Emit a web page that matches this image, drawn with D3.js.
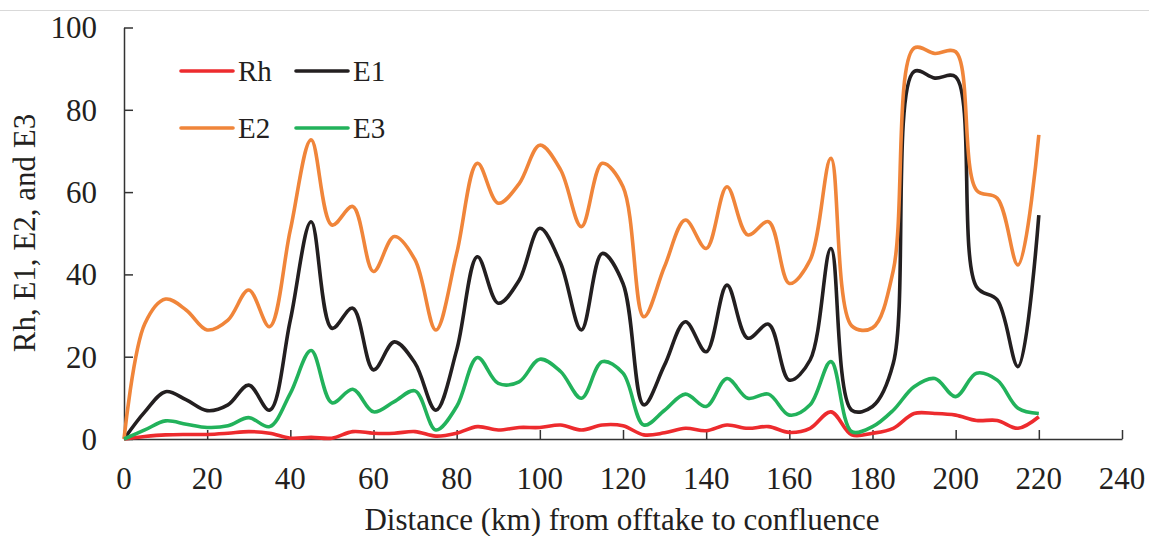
<!DOCTYPE html>
<html>
<head>
<meta charset="utf-8">
<script src="https://cdn.jsdelivr.net/npm/d3@7"></script>
<style>
  html, body { margin: 0; padding: 0; background: #fff; }
  svg { display: block; font-family: "Liberation Serif", "Times New Roman", serif; }
</style>
</head>
<body>
<svg id="chart" width="1149" height="536"></svg>
<script>
// distance along the canal (km)
const km = [0, 5, 10, 15, 20, 25, 30, 35, 40, 45,
  50, 55, 60, 65, 70, 75, 80, 85, 90, 95,
  100, 105, 110, 115, 120, 125, 130, 135, 140, 145,
  150, 155, 160, 165, 170, 175, 180, 185, 190, 195,
  200, 205, 210, 215, 220];

const rh = [0, 0.6, 1.0, 1.1, 1.1, 1.4, 1.8, 1.4, 0.2, 0.4,
  0.2, 1.8, 1.4, 1.4, 1.8, 0.7, 1.4, 3.0, 2.2, 2.8,
  2.8, 3.4, 2.2, 3.4, 3.2, 1.0, 1.5, 2.6, 2.0, 3.4,
  2.6, 3.0, 1.6, 2.6, 6.6, 1.0, 1.4, 2.6, 6.2, 6.2,
  5.8, 4.5, 4.5, 2.6, 5.4];

const e1 = [0, 6.6, 11.5, 9.5, 6.9, 8.3, 13.1, 7.0, 28.9, 52.8,
  26.9, 31.8, 16.8, 23.6, 18.4, 7.0, 21.6, 44.3, 33.0, 38.5,
  51.2, 42.7, 26.5, 45.1, 37.8, 8.3, 18.0, 28.5, 21.2, 37.4,
  24.5, 27.9, 14.3, 19.2, 46.3, 7.0, 7.9, 18.4, 89.3, 87.7,
  88.0, 37.0, 33.8, 17.6, 54.4];

const e2 = [0, 28, 34, 31.3, 26.5, 28.9, 36.2, 27.3, 50.8, 72.7,
  52, 56.5, 40.7, 49.2, 43.5, 26.5, 45.1, 67, 57.3, 62,
  71.4, 65.4, 51.6, 67, 61.3, 29.7, 41.9, 53.2, 46.3, 61.3,
  49.6, 52.8, 37.8, 43.5, 68.2, 27.5, 27, 41, 95, 93.7,
  94.1, 60.5, 58.5, 42.3, 73.9];

const e3 = [0, 2.2, 4.4, 3.6, 2.8, 3.2, 5.2, 3.0, 11.1, 21.5,
  8.8, 12.1, 6.6, 9.1, 11.7, 2.2, 7.9, 19.8, 13.5, 13.9,
  19.4, 16.4, 9.9, 18.8, 16.0, 3.4, 7.0, 10.9, 7.9, 14.7,
  9.9, 10.9, 5.8, 8.3, 18.8, 1.8, 3.0, 7.0, 12.7, 14.7,
  10.3, 16.0, 14.3, 7.5, 6.2];

const xTicks = [0, 20, 40, 60, 80, 100, 120, 140, 160, 180, 200, 220, 240];
const yTicks = [0, 20, 40, 60, 80, 100];

const series = [
  { name: "Rh", values: rh, color: "#ed2b2e" },
  { name: "E1", values: e1, color: "#231f20" },
  { name: "E2", values: e2, color: "#f0853a" },
  { name: "E3", values: e3, color: "#22b25b" }
];

const svg = d3.select("#chart");

// thin frame line along the top
svg.append("line")
  .attr("x1", 0).attr("x2", 1149)
  .attr("y1", 10.5).attr("y2", 10.5)
  .attr("stroke", "#d9d9d9").attr("stroke-width", 1);

const x = d3.scaleLinear().domain([0, 240]).range([124, 1122]);
const y = d3.scaleLinear().domain([0, 100]).range([439, 27.5]);

// axes (ticks point inward, labels placed by hand)
const xAxis = svg.append("g")
  .attr("transform", "translate(0," + y(0) + ")")
  .call(d3.axisTop(x).tickValues(xTicks).tickSize(9).tickSizeOuter(0).tickFormat(""));
xAxis.select(".domain").attr("stroke", "#333").attr("stroke-width", 1.5);
xAxis.selectAll(".tick line").attr("stroke", "#333").attr("stroke-width", 1.5);

const yAxis = svg.append("g")
  .attr("transform", "translate(" + x(0) + ",0)")
  .call(d3.axisRight(y).tickValues(yTicks).tickSize(9).tickSizeOuter(0).tickFormat(""));
yAxis.select(".domain").attr("stroke", "#333").attr("stroke-width", 1.5);
yAxis.selectAll(".tick line").attr("stroke", "#333").attr("stroke-width", 1.5);

svg.append("g").selectAll("text")
  .data(xTicks)
  .enter()
  .append("text")
  .attr("x", d => x(d))
  .attr("y", 489)
  .attr("text-anchor", "middle")
  .attr("font-size", 31)
  .attr("fill", "#231f20")
  .text(d => d);

svg.append("g").selectAll("text")
  .data(yTicks)
  .enter()
  .append("text")
  .attr("x", 97)
  .attr("y", d => y(d))
  .attr("dy", "0.35em")
  .attr("text-anchor", "end")
  .attr("font-size", 31)
  .attr("fill", "#231f20")
  .text(d => d);

svg.append("text")
  .attr("x", 622)
  .attr("y", 530)
  .attr("text-anchor", "middle")
  .attr("font-size", 31)
  .attr("fill", "#231f20")
  .text("Distance (km) from offtake to confluence");

svg.append("text")
  .attr("transform", "translate(35,233) rotate(-90)")
  .attr("text-anchor", "middle")
  .attr("font-size", 31)
  .attr("fill", "#231f20")
  .text("Rh, E1, E2, and E3");

// lines - centripetal smoothing keeps the plateau at 190-200 from overshooting
const line = d3.line()
  .x((d, i) => x(km[i]))
  .y(d => y(d))
  .curve(d3.curveCatmullRom.alpha(0.5));

svg.append("g").selectAll("path")
  .data(series)
  .enter()
  .append("path")
  .attr("d", d => line(d.values))
  .attr("fill", "none")
  .attr("stroke", d => d.color)
  .attr("stroke-width", 3.6)
  .attr("stroke-linejoin", "round");

// legend, two columns by two rows
const legend = svg.append("g");
const cols = [181, 296];
const rows = [71, 128];
series.forEach((s, i) => {
  const lx = cols[i % 2];
  const ly = rows[Math.floor(i / 2)];
  legend.append("line")
    .attr("x1", lx).attr("x2", lx + 52)
    .attr("y1", ly).attr("y2", ly)
    .attr("stroke", s.color)
    .attr("stroke-width", 3.6)
    .attr("stroke-linecap", "round");
  legend.append("text")
    .attr("x", lx + 57)
    .attr("y", ly)
    .attr("dy", "0.35em")
    .attr("font-size", 29)
    .attr("fill", "#231f20")
    .text(s.name);
});
</script>
</body>
</html>
